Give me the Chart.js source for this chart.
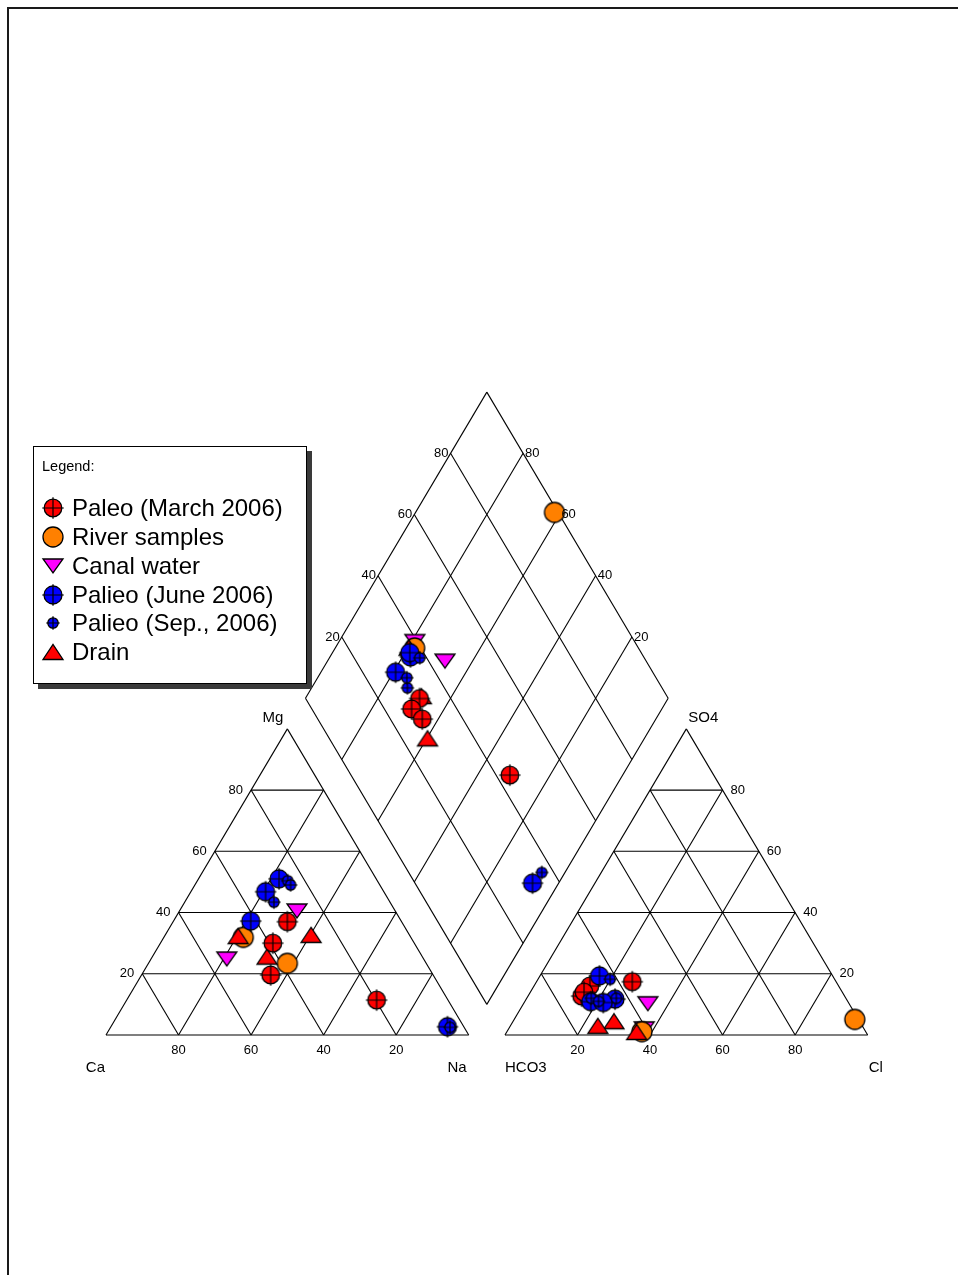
<!DOCTYPE html>
<html><head><meta charset="utf-8">
<script src="https://cdn.jsdelivr.net/npm/chart.js@4/dist/chart.umd.min.js"></script>
<style>
html,body{margin:0;padding:0;background:#fff;}
body{width:958px;height:1275px;position:relative;overflow:hidden;font-family:"Liberation Sans",Arial,sans-serif;}
#frame{position:absolute;left:7px;top:7px;width:1000px;height:1320px;border-left:2px solid #1a1a1a;border-top:2px solid #1a1a1a;}
#c{position:absolute;left:0;top:0;}
#legend{position:absolute;left:33px;top:446px;width:274px;height:238px;box-sizing:border-box;border:1px solid #000;background:#fff;box-shadow:5px 5px 0 #3a3a3a;}
#legend .title{position:absolute;left:8px;top:10px;font-size:14.5px;line-height:18px;color:#000;}
#legend .row{position:absolute;left:0;height:28px;width:270px;}
#legend .row canvas{position:absolute;top:50%;transform:translate(-50%,-50%);left:19px;}
#legend .row span{position:absolute;left:38px;top:0;line-height:28px;font-size:24px;color:#000;white-space:nowrap;}
</style>
</head><body>
<div id="frame"></div>
<canvas id="c" width="958" height="1275"></canvas>
<div id="legend"><div class="title">Legend:</div></div>
<script>
// ---------------- DATA (percent of meq) ----------------
const tickValues = [20, 40, 60, 80];
const cornerLabels = {ca:'Ca', mg:'Mg', na:'Na', hco3:'HCO3', so4:'SO4', cl:'Cl'};
const seriesNames = ['Paleo (March 2006)','River samples','Canal water','Palieo (June 2006)','Palieo (Sep., 2006)','Drain'];

// Paleo (March 2006)
const paleoMarchCa   = [31.5, 39.0, 44.8, 19.7];
const paleoMarchMg   = [37.0, 30.0, 19.6, 11.4];
const paleoMarchNa   = [31.5, 31.0, 35.6, 68.9];
const paleoMarchHCO3 = [68.6, 72.5, 71.2, 56.2];
const paleoMarchSO4  = [16.0, 12.7, 14.0, 17.4];
const paleoMarchCl   = [15.4, 14.8, 14.8, 26.4];

// River samples
const riverCa   = [46.2, 38.3];
const riverMg   = [31.9, 23.4];
const riverNa   = [21.9, 38.3];
const riverHCO3 = [61.7, 1.0];
const riverSO4  = [1.1, 5.1];
const riverCl   = [37.2, 93.9];

// Canal water
const canalCa   = [27.1, 54.3];
const canalMg   = [40.5, 24.8];
const canalNa   = [32.4, 20.9];
const canalHCO3 = [55.5, 60.6];
const canalSO4  = [10.2, 2.0];
const canalCl   = [34.3, 37.4];

// Palieo (June 2006)
const juneCa   = [26.8, 32.6, 41.5, 4.5];
const juneMg   = [51.0, 46.8, 37.2, 2.7];
const juneNa   = [22.2, 20.6, 21.3, 92.8];
const juneHCO3 = [64.3, 70.9, 63.8, 67.6];
const juneSO4  = [19.3, 10.9, 11.7, 10.6];
const juneCl   = [16.4, 18.2, 24.5, 21.8];

// Palieo (Sep., 2006)
const sepCa   = [24.7, 24.6, 32.0, 3.9];
const sepMg   = [50.4, 49.0, 43.4, 2.5];
const sepNa   = [24.9, 26.4, 24.6, 93.6];
const sepHCO3 = [61.9, 70.2, 68.7, 63.3];
const sepSO4  = [18.2, 12.0, 11.0, 12.0];
const sepCl   = [19.9, 17.8, 20.3, 24.7];

// Drain
const drainCa   = [47.4, 42.8, 27.1];
const drainMg   = [32.3, 25.6, 32.7];
const drainNa   = [20.3, 31.6, 40.2];
const drainHCO3 = [63.2, 67.7, 72.9];
const drainSO4  = [1.0, 4.5, 3.0];
const drainCl   = [35.8, 27.8, 24.1];

// ---------------- PIPER PROJECTION ----------------
const H = Math.sqrt(3) / 2;
const GAP = 10;
function cat(ca, mg, na) { const t = ca + mg + na; const m = mg / t * 100, n = na / t * 100; return {x: n + m / 2, y: m * H}; }
function an(hco3, so4, cl) { const t = hco3 + so4 + cl; const s = so4 / t * 100, c = cl / t * 100; return {x: 100 + GAP + c + s / 2, y: s * H}; }
function dia(u, v) { // u = (Ca+Mg) fraction, v = (SO4+Cl) fraction
  const bx = 100 + GAP / 2, by = GAP / 2 * Math.sqrt(3);
  return {x: bx + 50 * (v - u), y: by + 100 * H * (u + v)};
}
function samplePoints(Ca, Mg, Na, HCO3, SO4, Cl) {
  const pts = [];
  for (let i = 0; i < Ca.length; i++) pts.push(cat(Ca[i], Mg[i], Na[i]));
  for (let i = 0; i < Ca.length; i++) pts.push(an(HCO3[i], SO4[i], Cl[i]));
  for (let i = 0; i < Ca.length; i++) {
    const u = (Ca[i] + Mg[i]) / (Ca[i] + Mg[i] + Na[i]);
    const v = (SO4[i] + Cl[i]) / (HCO3[i] + SO4[i] + Cl[i]);
    pts.push(dia(u, v));
  }
  return pts;
}

// ---------------- MARKERS ----------------
function markerCircle(fill, r, crossR) {
  const R = Math.max(r, crossR || 0);
  const s = 2 * Math.ceil(R) + 4, c = s / 2;
  const cv = document.createElement('canvas'); cv.width = s; cv.height = s;
  const g = cv.getContext('2d');
  g.beginPath(); g.arc(c, c, r, 0, Math.PI * 2); g.fillStyle = fill; g.fill();
  g.lineWidth = 1.3; g.strokeStyle = '#000'; g.stroke();
  if (crossR) {
    g.beginPath(); g.moveTo(c - crossR, c); g.lineTo(c + crossR, c); g.moveTo(c, c - crossR); g.lineTo(c, c + crossR);
    g.lineWidth = 1.2; g.stroke();
  }
  return cv;
}
function markerTri(fill, w, h, down) {
  const s = Math.ceil(Math.max(w, h)) + 4;
  const cv = document.createElement('canvas'); cv.width = s; cv.height = s;
  const g = cv.getContext('2d'); const c = s / 2;
  g.beginPath();
  if (down) { g.moveTo(c - w / 2, c - h / 2); g.lineTo(c + w / 2, c - h / 2); g.lineTo(c, c + h / 2); }
  else { g.moveTo(c - w / 2, c + h / 2); g.lineTo(c + w / 2, c + h / 2); g.lineTo(c, c - h / 2); }
  g.closePath(); g.fillStyle = fill; g.fill(); g.lineWidth = 1.3; g.lineJoin = 'miter'; g.strokeStyle = '#000'; g.stroke();
  return cv;
}
const makers = [
  () => markerCircle('#ff0000', 8.8, 10.8),
  () => markerCircle('#ff8000', 10, 0),
  () => markerTri('#ff00ff', 20, 14, true),
  () => markerCircle('#0000ff', 9, 10.8),
  () => markerCircle('#0000ff', 5.2, 6.8),
  () => markerTri('#ff0000', 20, 15, false)
];

// ---------------- GRID ----------------
const gridSets = [];
function seg(a, b) { gridSets.push({data: [a, b], showLine: true, borderColor: '#000', borderWidth: 1.1, pointRadius: 0, fill: false, order: 50, clip: false}); }
// outlines
seg(cat(100,0,0), cat(0,0,100)); seg(cat(0,0,100), cat(0,100,0)); seg(cat(0,100,0), cat(100,0,0));
seg(an(100,0,0), an(0,0,100)); seg(an(0,0,100), an(0,100,0)); seg(an(0,100,0), an(100,0,0));
seg(dia(0,0), dia(1,0)); seg(dia(1,0), dia(1,1)); seg(dia(1,1), dia(0,1)); seg(dia(0,1), dia(0,0));
tickValues.forEach(k => {
  seg(cat(100 - k, k, 0), cat(0, k, 100 - k));
  seg(cat(100 - k, 0, k), cat(0, 100 - k, k));
  seg(cat(k, 0, 100 - k), cat(k, 100 - k, 0));
  seg(an(100 - k, k, 0), an(0, k, 100 - k));
  seg(an(100 - k, 0, k), an(0, 100 - k, k));
  seg(an(k, 0, 100 - k), an(k, 100 - k, 0));
  seg(dia(0, k / 100), dia(1, k / 100));
  seg(dia(k / 100, 0), dia(k / 100, 1));
});

// ---------------- SERIES ----------------
const seriesPoints = [
  samplePoints(paleoMarchCa, paleoMarchMg, paleoMarchNa, paleoMarchHCO3, paleoMarchSO4, paleoMarchCl),
  samplePoints(riverCa, riverMg, riverNa, riverHCO3, riverSO4, riverCl),
  samplePoints(canalCa, canalMg, canalNa, canalHCO3, canalSO4, canalCl),
  samplePoints(juneCa, juneMg, juneNa, juneHCO3, juneSO4, juneCl),
  samplePoints(sepCa, sepMg, sepNa, sepHCO3, sepSO4, sepCl),
  samplePoints(drainCa, drainMg, drainNa, drainHCO3, drainSO4, drainCl)
];
const drawOrder = [3, 5, 6, 2, 1, 4]; // lower = drawn on top
const seriesSets = seriesPoints.map((pts, i) => ({
  label: seriesNames[i], data: pts, showLine: false,
  pointStyle: makers[i](), pointRadius: 10, pointHoverRadius: 10,
  order: drawOrder[i], clip: false
}));

// ---------------- LABEL PLUGIN ----------------
const labelPlugin = {
  id: 'piperLabels',
  afterDatasetsDraw(chart) {
    const ctx = chart.ctx, xs = chart.scales.x, ys = chart.scales.y;
    const P = p => [xs.getPixelForValue(p.x), ys.getPixelForValue(p.y)];
    ctx.save();
    ctx.fillStyle = '#000'; ctx.textBaseline = 'middle';
    ctx.font = '13px "Liberation Sans", Arial, sans-serif';
    tickValues.forEach(k => {
      let q;
      q = P(cat(k, 0, 100 - k)); ctx.textAlign = 'center'; ctx.fillText(String(k), q[0], q[1] + 15);
      q = P(cat(100 - k, k, 0)); ctx.textAlign = 'right'; ctx.fillText(String(k), q[0] - 8, q[1]);
      q = P(an(100 - k, 0, k)); ctx.textAlign = 'center'; ctx.fillText(String(k), q[0], q[1] + 15);
      q = P(an(0, k, 100 - k)); ctx.textAlign = 'left'; ctx.fillText(String(k), q[0] + 8, q[1]);
      q = P(dia(1, k / 100)); ctx.textAlign = 'right'; ctx.fillText(String(k), q[0] - 2, q[1]);
      q = P(dia(k / 100, 1)); ctx.textAlign = 'left'; ctx.fillText(String(k), q[0] + 2, q[1]);
    });
    ctx.font = '15px "Liberation Sans", Arial, sans-serif';
    let q;
    q = P(cat(100, 0, 0)); ctx.textAlign = 'right'; ctx.fillText(cornerLabels.ca, q[0] - 1, q[1] + 33);
    q = P(cat(0, 0, 100)); ctx.textAlign = 'right'; ctx.fillText(cornerLabels.na, q[0] - 2, q[1] + 33);
    q = P(cat(0, 100, 0)); ctx.textAlign = 'right'; ctx.fillText(cornerLabels.mg, q[0] - 4, q[1] - 11);
    q = P(an(100, 0, 0)); ctx.textAlign = 'left'; ctx.fillText(cornerLabels.hco3, q[0], q[1] + 33);
    q = P(an(0, 0, 100)); ctx.textAlign = 'left'; ctx.fillText(cornerLabels.cl, q[0] + 1, q[1] + 33);
    q = P(an(0, 100, 0)); ctx.textAlign = 'left'; ctx.fillText(cornerLabels.so4, q[0] + 2, q[1] - 11);
    ctx.restore();
  }
};

// pixel mapping: x px = 106 + X*3.627 ; y px = 1035 - Y*3.535
const KX = 3.627, KY = 3.535, X0 = 106, Y0 = 1035;
new Chart(document.getElementById('c'), {
  type: 'scatter',
  data: {datasets: [...seriesSets, ...gridSets]},
  options: {
    responsive: false, animation: false, events: [],
    layout: {padding: 0, autoPadding: false},
    plugins: {legend: {display: false}, tooltip: {enabled: false}},
    scales: {
      x: {type: 'linear', display: false, min: -X0 / KX, max: (958 - X0) / KX},
      y: {type: 'linear', display: false, min: (Y0 - 1275) / KY, max: Y0 / KY}
    }
  },
  plugins: [labelPlugin]
});

// ---------------- LEGEND (HTML) ----------------
const legend = document.getElementById('legend');
const rowCenters = [508.3, 536.7, 566, 595, 623.3, 652.3];
seriesNames.forEach((name, i) => {
  const row = document.createElement('div'); row.className = 'row';
  row.style.top = (rowCenters[i] - 447 - 14) + 'px';
  row.appendChild(makers[i]());
  const sp = document.createElement('span'); sp.textContent = name; row.appendChild(sp);
  legend.appendChild(row);
});
</script>
</body></html>
